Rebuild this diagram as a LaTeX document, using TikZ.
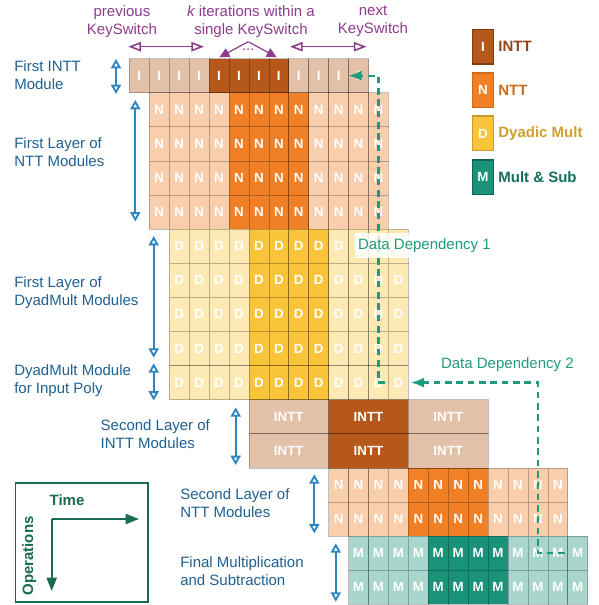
\documentclass[tikz,border=0pt]{standalone}
\usepackage{fontspec}
\setmainfont{Liberation Sans}
\usetikzlibrary{arrows.meta,positioning}
\definecolor{Ibase}{HTML}{B5581A}
\definecolor{Nbase}{HTML}{F07F26}
\definecolor{Dbase}{HTML}{F9C43A}
\definecolor{Mbase}{HTML}{1A9279}
\definecolor{lblblue}{HTML}{1F6090}
\definecolor{arrblue}{HTML}{2E86C1}
\definecolor{ksviolet}{HTML}{8E3C8E}
\definecolor{depgreen}{HTML}{1E9B7C}
\definecolor{axgreen}{HTML}{176B55}
\newcommand{\lblfont}{\fontsize{11.25pt}{13.5pt}\selectfont}
\newcommand{\cellfont}{\fontsize{10pt}{11pt}\selectfont\bfseries}
\tikzset{
	cell/.style={draw=black, draw opacity=0.25, line width=0.5pt, anchor=north west, inner sep=0pt,
		minimum width=14.95pt, minimum height=25.58pt, text=white, font=\cellfont},
	wide/.style={minimum width=59.8pt},
	opI0/.style={fill=Ibase!38!white}, opI1/.style={fill=Ibase},
	opN0/.style={fill=Nbase!38!white}, opN1/.style={fill=Nbase},
	opD0/.style={fill=Dbase!38!white}, opD1/.style={fill=Dbase},
	opM0/.style={fill=Mbase!38!white}, opM1/.style={fill=Mbase},
	modlbl/.style={anchor=west, align=left, inner sep=0pt, text=lblblue, font=\lblfont},
	modarr/.style={arrblue, line width=1.4pt, {Triangle[open,length=7pt,width=7.5pt]}-{Triangle[open,length=7pt,width=7.5pt]}},
	kslbl/.style={align=center, inner sep=0pt, text=ksviolet, font=\lblfont},
	ksarr/.style={ksviolet, line width=1.2pt, {Triangle[open,length=9.5pt,width=7pt]}-{Triangle[open,length=9.5pt,width=7pt]}},
	itarr/.style={ksviolet, line width=0.9pt, -{Triangle[length=7.5pt,width=7pt]}},
	lgbox/.style={minimum width=15.6pt, minimum height=26pt, inner sep=0pt, line width=1pt, text=white, font=\cellfont},
	lgtxt/.style={inner sep=0pt, font=\lblfont\bfseries},
	dep/.style={depgreen, line width=1.7pt, dash pattern=on 5pt off 3.5pt, -{Latex[length=10pt,width=7.5pt]}},
	deplbl/.style={anchor=west, text=depgreen, font=\lblfont},
	axarr/.style={axgreen, line width=1.5pt, -{Triangle[length=10pt,width=7.5pt]}}
}
\begin{document}
\begin{tikzpicture}[x=0.75pt,y=-0.75pt]
	\useasboundingbox (0,0) rectangle (598,605);
	\foreach \row/\st/\op in {0/0/I,1/1/N,2/1/N,3/1/N,4/1/N,5/2/D,6/2/D,7/2/D,8/2/D,9/2/D,12/10/N,13/10/N,14/11/M,15/11/M}
		\foreach \col in {0,...,11}{
			\pgfmathtruncatemacro{\hl}{(\col>3)&&(\col<8)}
			\node[cell, op\op\hl] (c\row-\col) at ({129+(\st+\col)*19.93},{58.3+\row*34.1}) {\op};
		}
	\foreach \row in {10,11}
		\foreach \b/\hl in {0/0,1/1,2/0}
			\node[cell, wide, opI\hl] (c\row-w\b) at ({129+(6+4*\b)*19.93},{58.3+\row*34.1}) {INTT};

	\node[kslbl] (prevks) at (122,21.5) {previous\\KeySwitch};
	\node[kslbl] (iterks) at (251,21.5) {{\itshape k} iterations within a\\single KeySwitch};
	\node[kslbl] (nextks) at (373,21.5) {next\\KeySwitch};
	\coordinate (prev-l) at (128.3,46.7);
	\coordinate (prev-r) at (204,46.7);
	\coordinate (next-l) at (290,46.7);
	\coordinate (next-r) at (366.5,46.7);
	\draw[ksarr] (prev-l) -- (prev-r);
	\draw[ksarr] (next-l) -- (next-r);
	\coordinate (iter-top) at (248.3,41.7);
	\coordinate (iter-l) at (219.3,57.3);
	\coordinate (iter-r) at (276.7,57.3);
	\draw[itarr] (iter-top) -- (iter-l);
	\draw[itarr] (iter-top) -- (iter-r);
	\node[text=ksviolet, font=\lblfont, inner sep=0pt] (iterdots) at (248.3,50) {...};

	\node[modlbl] (lbI) at (14,75.5) {First INTT\\Module};
	\node[modlbl] (lbN) at (14,152.5) {First Layer of\\NTT Modules};
	\node[modlbl] (lbD) at (14,293) {First Layer of\\DyadMult Modules};
	\node[modlbl] (lbP) at (14,380.5) {DyadMult Module\\for Input Poly};
	\node[modlbl] (lbI2) at (100.4,434) {Second Layer of\\INTT Modules};
	\node[modlbl] (lbN2) at (180,503) {Second Layer of\\NTT Modules};
	\node[modlbl] (lbM) at (180,571) {Final Multiplication\\and Subtraction};
	\foreach \nm/\x/\ya/\yb in {aI/116/59/94, aN/135.3/100/221.5, aD/153.7/236/357.7, aP/153.7/363.3/400.5, aI2/235.7/407.3/465, aN2/314.3/474.3/533.3, aM/335.8/543.3/601.7}{
		\coordinate (\nm-t) at (\x,\ya);
		\coordinate (\nm-b) at (\x,\yb);
		\draw[modarr] (\nm-t) -- (\nm-b);
	}

	\draw[dep] ([xshift=5pt]c9-10.center) -- (c9-10.center) -- (c9-10.center |- c0-11.center) -- (c0-11.west);
	\draw[dep] ([xshift=5pt]c14-10.center) -- (c14-9.center) -- (c14-9.center |- c9-11.east) -- ([xshift=1.5pt]c9-11.east);
	\node[deplbl, fill=white, fill opacity=0.85, text opacity=1, inner xsep=2.5pt, inner ysep=4pt] (dd1) at (354.5,245.5) {Data Dependency 1};
	\node[deplbl, inner sep=0pt] (dd2) at (440.8,364.3) {Data Dependency 2};

	\node[lgbox, fill=Ibase, draw=Ibase!70!black] (lgI) at (483,46.7) {I};
	\node[lgbox, fill=Nbase, draw=Nbase!85!black] (lgN) at (483,90.2) {N};
	\node[lgbox, fill=Dbase, draw=Dbase!80!black] (lgD) at (483,133.5) {D};
	\node[lgbox, fill=Mbase, draw=Mbase!70!black] (lgM) at (483,177.2) {M};
	\node[lgtxt, text=Ibase!80!black, right=3pt of lgI] (lgItxt) {INTT};
	\node[lgtxt, text=Nbase!85!black, right=3pt of lgN] (lgNtxt) {NTT};
	\node[lgtxt, text=Dbase!82!black, right=3pt of lgD] (lgDtxt) {Dyadic Mult};
	\node[lgtxt, text=Mbase!75!black, right=3pt of lgM] (lgMtxt) {Mult \& Sub};

	\draw[axgreen, line width=1.2pt] (15.3,483) rectangle (148,602);
	\node[lgtxt, text=axgreen] (time) at (67,500) {Time};
	\node[lgtxt, text=axgreen, rotate=90] (ops) at (29.3,556) {Operations};
	\coordinate (ax) at (51.7,519);
	\coordinate (ax-t) at (139,519);
	\coordinate (ax-o) at (51.7,591);
	\draw[axarr] (ax) -- (ax-t);
	\draw[axarr] (ax) -- (ax-o);
\end{tikzpicture}
\end{document}
